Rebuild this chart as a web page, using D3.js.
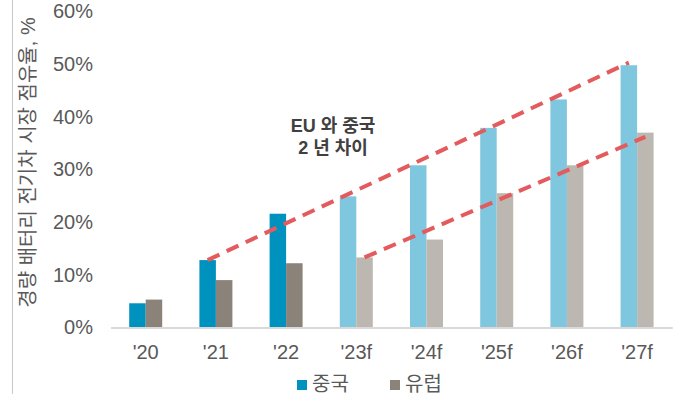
<!DOCTYPE html>
<html><head><meta charset="utf-8">
<script src="https://cdn.jsdelivr.net/npm/d3@7"></script>
<style>
html,body{margin:0;padding:0;background:#fff;}
svg{display:block;}
text{font-family:"Liberation Sans",Arial,"Noto Sans CJK KR",sans-serif;}
</style></head>
<body>
<svg id="c" width="685" height="396"></svg>
<script>
const categories = ["'20","'21","'22","'23f","'24f","'25f","'26f","'27f"];
const forecast = [false,false,false,true,true,true,true,true];
const chinaValues = [4.6,12.8,21.6,24.9,30.8,37.9,43.3,49.8];
const europeValues = [5.3,9.0,12.2,13.3,16.7,25.5,30.8,37.0];
const seriesNames = ["중국","유럽"];
const yTicks = [0,10,20,30,40,50,60];
const trendChina = [{cat:"'21", v:12.8},{cat:"'27f", v:50.3}];
const trendEurope = [{cat:"'23f", v:13.3},{cat:"'27f", v:36.2}];
const yTitle = "경량 배터리 전기차 시장 점유율, %";
const note = ["EU 와 중국","2 년 차이"];

const colors = {
  "중국": {actual:"#0092BF", fc:"#7FC7DE"},
  "유럽": {actual:"#8B8279", fc:"#BCB8B1"}
};

const FONT = "'Liberation Sans',Arial,'Noto Sans CJK KR',sans-serif";
const svg = d3.select("#c");

// left border line
svg.append("line").attr("x1",12.5).attr("x2",12.5).attr("y1",0).attr("y2",394)
  .attr("stroke","#c9c9c9").attr("stroke-width",1);

const x0 = d3.scaleBand().domain(categories).range([110.6,672.2]).paddingInner(0.53).paddingOuter(0.265);
const x1 = d3.scaleBand().domain(seriesNames).range([0,x0.bandwidth()]);
const y = d3.scaleLinear().domain([0,60]).range([327.5,11.5]);

// y axis
const ya = svg.append("g").attr("transform","translate(96,0)")
  .call(d3.axisLeft(y).tickValues(yTicks).tickSize(0).tickPadding(3).tickFormat(d=>d+"%"));
ya.select(".domain").remove();
ya.selectAll("text").attr("font-size",20).attr("fill","#595959").style("font-family",FONT);

// bars
const data = categories.map((c,i)=>({cat:c, fc:forecast[i], vals:[chinaValues[i],europeValues[i]]}));
const g = svg.append("g");
data.forEach(d=>{
  seriesNames.forEach((s,j)=>{
    g.append("rect")
      .attr("x", x0(d.cat)+x1(s))
      .attr("y", y(d.vals[j]))
      .attr("width", x1.bandwidth())
      .attr("height", y(0)-y(d.vals[j]))
      .attr("fill", d.fc ? colors[s].fc : colors[s].actual);
  });
});

// x axis
const xa = svg.append("g").attr("transform","translate(0,327.5)")
  .call(d3.axisBottom(x0).tickSize(0).tickSizeOuter(0).tickPadding(17));
xa.select(".domain").attr("stroke","#D9D9D9").attr("stroke-width",2);
xa.selectAll("text").attr("font-size",20).attr("fill","#595959").style("font-family",FONT);

// trend lines
const line = d3.line().x(d=>d.x).y(d=>d.y);
function trend(arr, s){
  return arr.map(p=>({x: x0(p.cat)+x1(s)+x1.bandwidth()/2, y: y(p.v)}));
}
[[trendChina,"중국"],[trendEurope,"유럽"]].forEach(([arr,s])=>{
  svg.append("path").attr("d", line(trend(arr,s)))
    .attr("fill","none").attr("stroke","#E35B5D").attr("stroke-width",4)
    .attr("stroke-dasharray","13,8");
});

// annotation
note.forEach((t,i)=>{
  svg.append("text").attr("x",333).attr("y",132+i*22).attr("text-anchor","middle")
    .attr("font-size",18).attr("font-weight","bold").attr("fill","#404040")
    .style("font-family",FONT).text(t);
});

// y title
svg.append("text").attr("transform","translate(35,162.5) rotate(-90)")
  .attr("text-anchor","middle").attr("font-size",20).attr("fill","#595959")
  .style("font-family",FONT).text(yTitle);

// legend
const legendX = [297, 390];
seriesNames.forEach((s,i)=>{
  svg.append("rect").attr("x",legendX[i]).attr("y",380).attr("width",10).attr("height",10)
    .attr("fill",colors[s].actual);
  svg.append("text").attr("x",legendX[i]+15).attr("y",391).attr("font-size",20)
    .attr("fill","#595959").style("font-family",FONT).text(s);
});
</script>
</body></html>
